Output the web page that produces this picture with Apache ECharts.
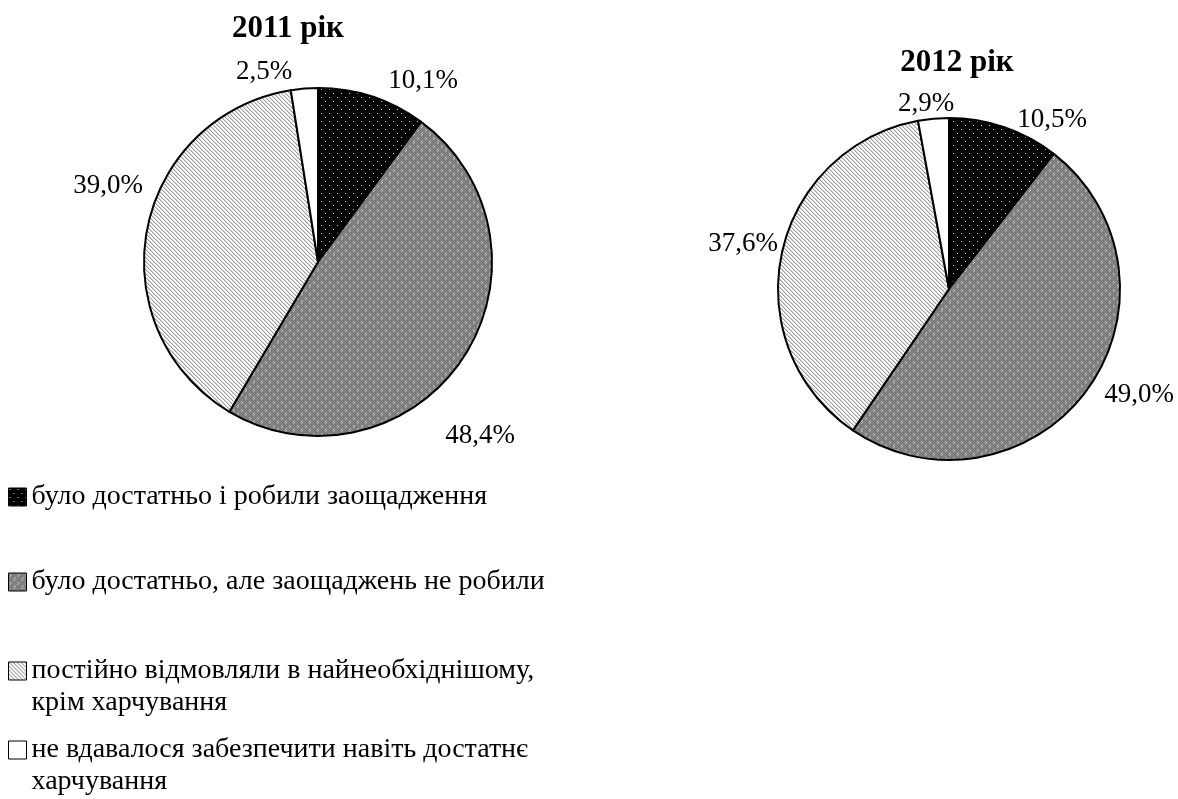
<!DOCTYPE html>
<html>
<head>
<meta charset="utf-8">
<script src="https://cdn.jsdelivr.net/npm/echarts@6/dist/echarts.min.js"></script>
<style>
html,body{margin:0;padding:0;background:#fff;}
#chart{width:1178px;height:799px;}
</style>
</head>
<body>
<div id="chart"></div>
<script>
// ---- data ----
const categories = [
  'було достатньо і робили заощадження',
  'було достатньо, але заощаджень не робили',
  'постійно відмовляли в найнеобхіднішому, крім харчування',
  'не вдавалося забезпечити навіть достатнє харчування'
];
const legendLabels = [
  'було достатньо і робили заощадження',
  'було достатньо, але заощаджень не робили',
  'постійно відмовляли в найнеобхіднішому,\nкрім харчування',
  'не вдавалося забезпечити навіть достатнє\nхарчування'
];
const years = ['2011 рік', '2012 рік'];
const values2011 = [10.1, 48.4, 39.0, 2.5];
const values2012 = [10.5, 49.0, 37.6, 2.9];

// ---- patterns ----
function tile(w, h, bg, pixels, col) {
  const c = document.createElement('canvas');
  c.width = w; c.height = h;
  const g = c.getContext('2d');
  g.fillStyle = bg; g.fillRect(0, 0, w, h);
  pixels.forEach(function (p) {
    g.fillStyle = p[2] || col;
    g.fillRect(p[0], p[1], 1, 1);
  });
  return c;
}
const patDots = tile(8, 8, '#000', [[1,1],[5,5]], '#e0e0e0');
const patGray = tile(8, 8, '#7f7f7f', [[1,1],[2,2],[1,3],[5,5],[6,4],[6,6],[5,7]], '#c4c4c4');
const patStripe = tile(4, 4, '#fff', [[0,0],[1,1],[2,2],[3,3],[1,0,'#d8d8d8'],[2,1,'#d8d8d8'],[3,2,'#d8d8d8'],[0,3,'#d8d8d8']], '#9a9a9a');
const fills = [
  {image: patDots, repeat: 'repeat'},
  {image: patGray, repeat: 'repeat'},
  {image: patStripe, repeat: 'repeat'},
  '#ffffff'
];

// ---- layout ----
const FONT = '"Liberation Serif", "Times New Roman", serif';
const pies = [
  {center: [318, 262], radius: 174, values: values2011,
   labelPos: [[423, 81], [480, 436], [108, 186], [264, 72]]},
  {center: [949, 289], radius: 171, values: values2012,
   labelPos: [[1052, 120], [1139, 395], [743, 244], [926, 104]]}
];
const titlePos = [[288, 13], [957, 47]];
const LH = 32;
const legendCenters = [497, 582, 671, 750];

function fmt(v) { return v.toFixed(1).replace('.', ',') + '%'; }

const chart = echarts.init(document.getElementById('chart'), null, {renderer: 'canvas'});

const option = {
  animation: false,
  backgroundColor: '#fff',
  title: years.map(function (t, i) {
    return {
      text: t, left: titlePos[i][0], top: titlePos[i][1], textAlign: 'center', padding: 0,
      textStyle: {fontFamily: FONT, fontWeight: 'bold', fontSize: 31, color: '#000'}
    };
  }),
  legend: categories.map(function (c, i) {
    const multi = legendLabels[i].indexOf('\n') >= 0;
    return {
      data: [c], orient: 'vertical', left: 8,
      top: legendCenters[i] - (multi ? 1.5 * LH : 0.5 * LH), padding: 0,
      itemWidth: 18, itemHeight: 18, itemGap: 0, selectedMode: false, icon: 'rect',
      itemStyle: {borderColor: '#000', borderWidth: 1},
      formatter: function () { return (multi ? '\n' : '') + legendLabels[i]; },
      textStyle: {fontFamily: FONT, fontSize: 28, color: '#000', lineHeight: LH}
    };
  }),
  series: pies.map(function (p) {
    return {
      type: 'pie',
      center: p.center,
      radius: [0, p.radius],
      startAngle: 90,
      clockwise: true,
      silent: true,
      itemStyle: {borderColor: '#000', borderWidth: 2},
      label: {
        show: true, position: 'outside', color: '#000',
        fontFamily: FONT, fontSize: 27, overflow: 'none', edgeDistance: 0, bleedMargin: 0,
        formatter: function (params) { return fmt(params.value); }
      },
      labelLine: {show: false},
      labelLayout: function (params) {
        const pos = p.labelPos[params.dataIndex];
        return {x: pos[0], y: pos[1], align: 'center', verticalAlign: 'middle'};
      },
      data: p.values.map(function (v, i) {
        return {name: categories[i], value: v, itemStyle: {color: fills[i]}};
      })
    };
  })
};
chart.setOption(option);
</script>
</body>
</html>
